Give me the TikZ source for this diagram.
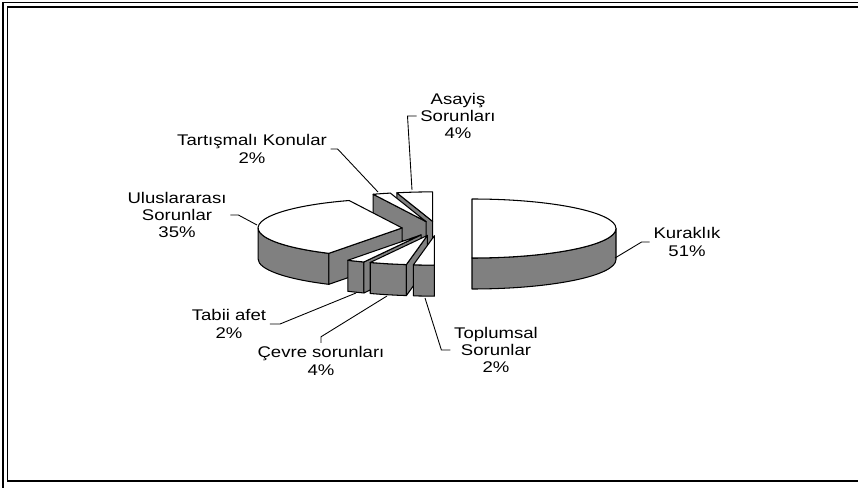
\documentclass[tikz,border=0pt]{standalone}
\usepackage{fontspec}
\setmainfont{Liberation Sans}[FakeStretch=1.2]
\usetikzlibrary{positioning}

\definecolor{sidegray}{RGB}{128,128,128}

% pie geometry, in pixels
\def\pieX{437}
\def\pieY{258.5}
\def\pieA{144}
\def\pieB{29.5}
\def\pieH{31}
\def\pieE{35}

% one exploded slice: start angle, end angle
\newcommand{\pieslice}[2]{%
  \pgfmathsetmacro\slmid{(#1+#2)/2}
  \pgfmathsetmacro\slx{\pieX+\pieE*cos(\slmid)}
  \pgfmathsetmacro\sly{\pieY+\pieE*\pieB/\pieA*sin(\slmid)}
  \pgfmathsetmacro\sla{max(#1,180)}
  \pgfmathsetmacro\slb{min(#2,360)}
  \pgfmathtruncatemacro\slside{\slb>\sla}
  \ifnum\slside=1
    \path[pieside] ({\slx+\pieA*cos(\sla)},{\sly+\pieB*sin(\sla)})
      arc[start angle=\sla, end angle=\slb, x radius=\pieA, y radius=\pieB]
      -- ++(0,-\pieH)
      arc[start angle=\slb, end angle=\sla, x radius=\pieA, y radius=\pieB] -- cycle;
  \fi
  \pgfmathtruncatemacro\slcut{cos(#1)>0.01}
  \ifnum\slcut=1
    \path[pieside] (\slx,\sly) -- ({\slx+\pieA*cos(#1)},{\sly+\pieB*sin(#1)})
      -- ++(0,-\pieH) -- ({\slx},{\sly-\pieH}) -- cycle;
  \fi
  \pgfmathtruncatemacro\slcut{cos(#2)<-0.01}
  \ifnum\slcut=1
    \path[pieside] (\slx,\sly) -- ({\slx+\pieA*cos(#2)},{\sly+\pieB*sin(#2)})
      -- ++(0,-\pieH) -- ({\slx},{\sly-\pieH}) -- cycle;
  \fi
  \path[pietop] (\slx,\sly) -- ({\slx+\pieA*cos(#1)},{\sly+\pieB*sin(#1)})
    arc[start angle=#1, end angle=#2, x radius=\pieA, y radius=\pieB] -- cycle;
}

\begin{document}
\begin{tikzpicture}[x=0.02cm, y=0.02cm,
    pietop/.style={draw=black, fill=white, line width=0.6pt, line join=round},
    pieside/.style={draw=black, fill=sidegray, line width=0.6pt, line join=round},
    leader/.style={draw=black, line width=0.5pt},
    lbl/.style={align=center, inner sep=2pt, font=\fontsize{8.8}{9.9}\selectfont}]
    \useasboundingbox (0,0) rectangle (858,487);
    \path[draw, line width=0.6pt] (3,-20) rectangle (900,484.5);
    \path[draw, line width=0.8pt] (7.5,6) rectangle (895,480);

    % back slices first
    \pieslice{90}{104.4}
    \pieslice{104.4}{111.6}
    \pieslice{111.6}{239.4}
    \pieslice{270}{450}
    \pieslice{239.4}{246.6}
    \pieslice{246.6}{261.6}
    \pieslice{261.6}{270}

    \coordinate (asapt) at (412,297);
    \coordinate (tarpt) at (378,295);
    \coordinate (ulupt) at (257,262);
    \coordinate (kurpt) at (615,229);
    \coordinate (tabpt) at (356,194);
    \coordinate (cevpt) at (387,191);
    \coordinate (toppt) at (425,189);

    \node[lbl] (asa) at (458,371) {Asayiş\\Sorunları\\4\%};
    \node[lbl] (tar) at (252,338) {Tartışmalı Konular\\2\%};
    \node[lbl] (ulu) at (177,272) {Uluslararası\\Sorunlar\\35\%};
    \node[lbl] (kur) at (687,245) {Kuraklık\\51\%};
    \node[lbl] (tab) at (229,163) {Tabii afet\\2\%};
    \node[lbl] (cev) at (321,126) {Çevre sorunları\\4\%};
    \node[lbl] (topl) at (496,137) {Toplumsal\\Sorunlar\\2\%};

    \path[leader] (asa.west) -- ++(-9,0) -- (asapt);
    \path[leader] (tar.east) -- ++(7,0) -- (tarpt);
    \path[leader] (ulu.east) -- ++(8,0) -- (ulupt);
    \path[leader] (kur.west) -- ++(-8,0) -- (kurpt);
    \path[leader] (tab.east) -- ++(10,0) -- (tabpt);
    \path[leader] (cev.north) -- ++(0,6) -- (cevpt);
    \path[leader] (topl.west) -- ++(-9,0) -- (toppt);
\end{tikzpicture}
\end{document}
